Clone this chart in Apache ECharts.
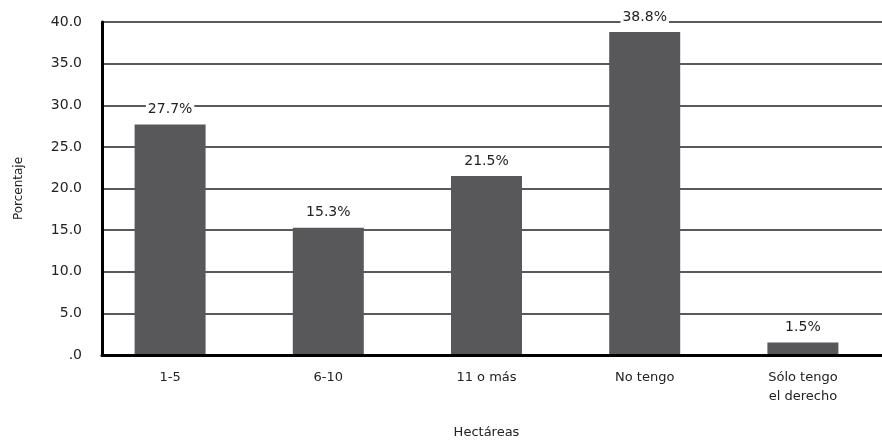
<!DOCTYPE html>
<html>
<head>
<meta charset="utf-8">
<script src="https://cdn.jsdelivr.net/npm/echarts@6/dist/echarts.min.js"></script>
<style>
  html, body { margin: 0; padding: 0; background: #fff; }
  #chart { width: 882px; height: 440px; }
</style>
</head>
<body>
<div id="chart"></div>
<script>
// Land size categories (hectares) and share of respondents in each
const categories = ['1-5', '6-10', '11 o más', 'No tengo', 'Sólo tengo\nel derecho'];
const percentages = [27.7, 15.3, 21.5, 38.8, 1.5];
const yTicks = { min: 0, max: 40, interval: 5 };

const chart = echarts.init(document.getElementById('chart'), null, { renderer: 'canvas' });
const font = 'DejaVu Sans, Verdana, sans-serif';
const ink = '#222';
const fmtTick = v => v === 0 ? '.0' : v.toFixed(1);

chart.setOption({
  animation: false,
  backgroundColor: '#ffffff',
  grid: [
    // frame: value axis, gridlines and baseline
    { left: 102, right: 0, top: 22, bottom: 85, outerBoundsMode: 'none', containLabel: false },
    // bar area: category bands slightly wider, starting a bit left of the value axis
    { left: 91, right: 0, top: 22, bottom: 85, outerBoundsMode: 'none', containLabel: false }
  ],
  xAxis: [
    {
      gridIndex: 0,
      type: 'category',
      data: categories,
      axisLine: { lineStyle: { color: '#000', width: 3 } },
      axisTick: { show: false },
      axisLabel: { show: false },
      z: 5
    },
    {
      gridIndex: 1,
      type: 'category',
      data: categories,
      name: 'Hectáreas',
      nameLocation: 'middle',
      nameGap: 71,
      nameTextStyle: { fontFamily: font, fontSize: 13, color: ink },
      axisLine: { show: false },
      axisTick: { show: false },
      axisLabel: { fontFamily: font, fontSize: 13, color: ink, margin: 13, lineHeight: 19 }
    }
  ],
  yAxis: [
    {
      gridIndex: 0,
      type: 'value',
      min: yTicks.min,
      max: yTicks.max,
      interval: yTicks.interval,
      name: 'Porcentaje',
      nameLocation: 'middle',
      nameGap: 77,
      nameTextStyle: { fontFamily: font, fontSize: 12, color: ink },
      axisLine: { show: true, lineStyle: { color: '#000', width: 3 } },
      axisTick: { show: false },
      axisLabel: { fontFamily: font, fontSize: 14, color: ink, margin: 20, formatter: fmtTick },
      splitLine: { show: true, lineStyle: { color: ink, width: 1.5 } }
    },
    {
      gridIndex: 1,
      type: 'value',
      min: yTicks.min,
      max: yTicks.max,
      interval: yTicks.interval,
      show: false
    }
  ],
  series: [{
    type: 'bar',
    xAxisIndex: 1,
    yAxisIndex: 1,
    data: percentages,
    barWidth: 71,
    itemStyle: { color: '#58585a' },
    label: {
      show: true,
      position: 'top',
      distance: 8,
      formatter: p => p.value.toFixed(1) + '%',
      fontFamily: font,
      fontSize: 14,
      color: ink,
      backgroundColor: '#fff',
      padding: [0, 2]
    }
  }]
});
</script>
</body>
</html>
